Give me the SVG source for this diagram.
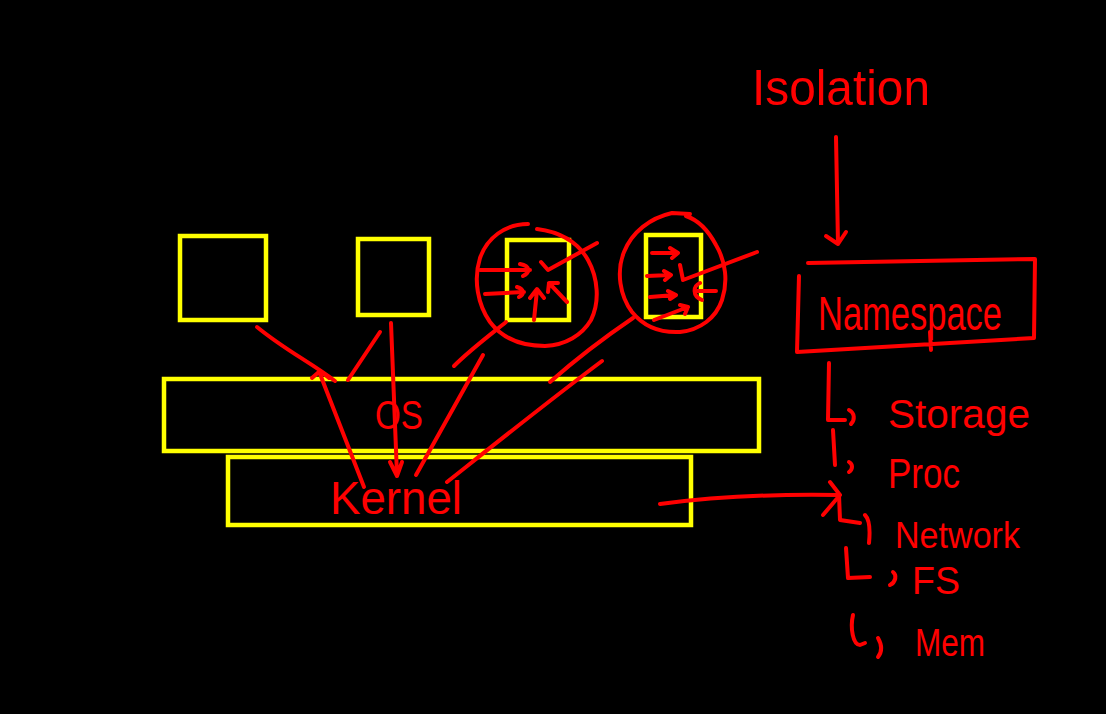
<svg xmlns="http://www.w3.org/2000/svg" width="1106" height="714" viewBox="0 0 1106 714">
<defs>
<style>
.y{fill:none;stroke:#ffff00;stroke-width:4.5}
.r{fill:none;stroke:#ff0000;stroke-width:4;stroke-linecap:round;stroke-linejoin:round}
.t{fill:#ff0000;font-family:"Liberation Sans","DejaVu Sans",sans-serif}
</style>
</defs>
<rect width="1106" height="714" fill="#000"/>
<g id="container1"><rect class="y" x="180" y="236" width="86" height="84"/></g>
<g id="container2"><rect class="y" x="358" y="239" width="71" height="76"/></g>
<g id="container3">
<rect class="y" x="507" y="240" width="62" height="80"/>
<path class="r" d="M528,224 C505,224 487,238 480,258 C473,280 478,305 490,322 C502,338 520,346 545,346 C566,345 582,335 591,320 C600,302 598,278 588,260 C578,242 560,232 537,229"/>
<path class="r" d="M480,270 L530,270 M520,264 C530,266 531,272 523,276 M485,294 L524,292 M517,287 C524,289 525,294 519,297 M534,320 L537,290 M530,298 L537,289 L544,298 M567,302 L549,283 M548,292 L549,283 L558,283 M541,262 L548,270 L597,243"/>
</g>
<g id="container4">
<rect class="y" x="646" y="235" width="55" height="82"/>
<path class="r" d="M690,214 L672,213 C650,218 632,232 624,252 C616,272 620,296 632,312 C644,327 660,333 680,332 C700,330 716,318 722,300 C728,282 726,262 716,245 C708,230 698,220 686,216"/>
<path class="r" d="M652,253 L677,253 M670,248 L678,253 L672,258 M647,276 L670,275 M664,271 L671,275 L665,280 M650,297 L675,295 M668,291 L676,295 L670,299 M654,320 L688,307 M680,305 L688,307 L685,314 M716,291 L695,291 M700,283 C693,286 692,296 702,300 M680,265 L683,280 L757,252"/>
</g>
<g id="os"><rect class="y" x="164" y="379" width="595" height="72"/>
<text class="t" x="375" y="429" font-size="40" textLength="48" lengthAdjust="spacingAndGlyphs">OS</text></g>
<g id="kernel"><rect class="y" x="228" y="457" width="463" height="68"/>
<text class="t" x="330" y="514" font-size="46" textLength="132" lengthAdjust="spacingAndGlyphs">Kernel</text></g>
<g id="isolation"><text class="t" x="752" y="105" font-size="50" textLength="178" lengthAdjust="spacingAndGlyphs">Isolation</text></g>
<g id="namespace">
<path class="r" d="M808,263 L1035,259 L1034,338 L797,352 M799,276 L797,352 M930,332 L931,350"/>
<text class="t" x="818" y="330" font-size="48" textLength="184" lengthAdjust="spacingAndGlyphs">Namespace</text>
</g>
<g id="items">
<text class="t" x="888" y="428" font-size="40" textLength="142" lengthAdjust="spacingAndGlyphs">Storage</text>
<text class="t" x="888" y="488" font-size="42" textLength="72" lengthAdjust="spacingAndGlyphs">Proc</text>
<text class="t" x="895" y="548" font-size="36" textLength="125" lengthAdjust="spacingAndGlyphs">Network</text>
<text class="t" x="912" y="594" font-size="38" textLength="48" lengthAdjust="spacingAndGlyphs">FS</text>
<text class="t" x="915" y="656" font-size="38" textLength="70" lengthAdjust="spacingAndGlyphs">Mem</text>
</g>
<g id="connectors">
<path class="r" d="M257,327 C285,350 310,362 335,381 M348,380 L380,332"/>
<path class="r" d="M391,323 L397,475 M390,462 L397,476 L402,462"/>
<path class="r" d="M364,487 L320,374 M312,378 L320,371 L329,378"/>
<path class="r" d="M416,475 L483,355"/>
<path class="r" d="M454,366 C470,350 490,335 506,322"/>
<path class="r" d="M447,482 C500,440 550,400 602,361"/>
<path class="r" d="M550,382 C575,360 605,337 633,318"/>
<path class="r" d="M836,137 L838,244 M826,236 L838,244 L846,232"/>
<path class="r" d="M660,504 C720,496 780,494 838,495 M830,482 L840,495 L823,515"/>
<path class="r" d="M829,363 L828,420 L845,420 M849,410 C855,413 855,420 851,424"/>
<path class="r" d="M833,430 L835,465 M849,462 C853,464 853,469 849,472"/>
<path class="r" d="M839,495 L840,520 L860,523 M865,515 C870,520 870,533 869,543"/>
<path class="r" d="M846,548 L848,578 L870,577 M893,572 C897,575 896,582 890,585"/>
<path class="r" d="M853,615 C850,628 853,645 860,645 L865,643 M878,638 C882,645 882,652 878,657"/>
</g>
</svg>
